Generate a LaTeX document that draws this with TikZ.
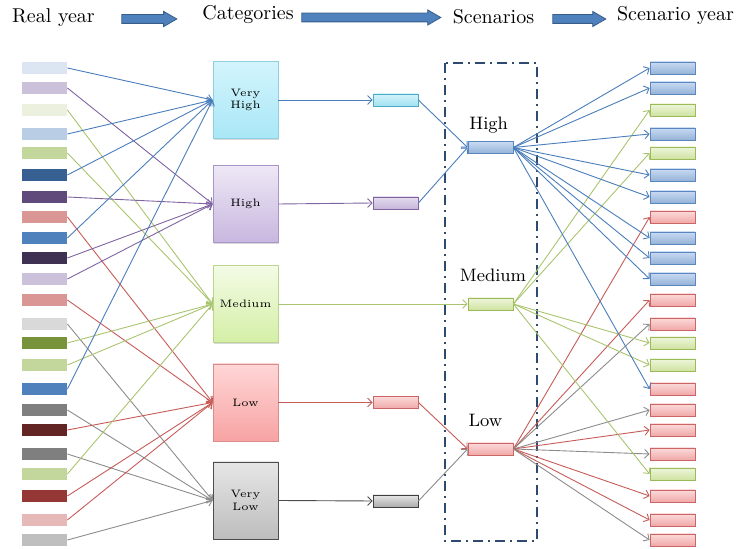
\documentclass[tikz,border=0pt]{standalone}
\usetikzlibrary{arrows.meta,shapes.arrows,shadows}
% office-style palette for the year bars
\definecolor{blueA}{HTML}{DCE6F2}
\definecolor{blueB}{HTML}{B9CDE5}
\definecolor{blueC}{HTML}{4F81BD}
\definecolor{blueD}{HTML}{376092}
\definecolor{purpA}{HTML}{CCC1DA}
\definecolor{purpB}{HTML}{604A7B}
\definecolor{purpC}{HTML}{3F3151}
\definecolor{grnA}{HTML}{EBF1DE}
\definecolor{grnB}{HTML}{C3D69B}
\definecolor{grnC}{HTML}{77933C}
\definecolor{redA}{HTML}{E6B9B8}
\definecolor{redB}{HTML}{D99694}
\definecolor{redC}{HTML}{953735}
\definecolor{redD}{HTML}{632523}
\definecolor{grayA}{HTML}{D9D9D9}
\definecolor{grayB}{HTML}{BFBFBF}
\definecolor{grayC}{HTML}{7F7F7F}
% box shadings: top, bottom, edge
\definecolor{vhT}{HTML}{D3F4FC}\definecolor{vhB}{HTML}{A9E7F7}\definecolor{vhE}{HTML}{8ED0E0}
\definecolor{hiT}{HTML}{EEE8F5}\definecolor{hiB}{HTML}{C8B7DF}\definecolor{hiE}{HTML}{A996C8}
\definecolor{meT}{HTML}{F4FBE6}\definecolor{meB}{HTML}{D4EFA6}\definecolor{meE}{HTML}{BCD58E}
\definecolor{loT}{HTML}{FFD6D6}\definecolor{loB}{HTML}{F7A3A3}\definecolor{loE}{HTML}{D98C8C}
\definecolor{vlT}{HTML}{E6E6E6}\definecolor{vlB}{HTML}{BDBDBD}\definecolor{vlE}{HTML}{4D4D4D}
\definecolor{bbT}{HTML}{C9DAF3}\definecolor{bbB}{HTML}{95B3D7}\definecolor{bbE}{HTML}{5B87C0}
\definecolor{gbT}{HTML}{EEF5DC}\definecolor{gbB}{HTML}{CFE3A0}\definecolor{gbE}{HTML}{9BBB59}
\definecolor{rbT}{HTML}{FBDADA}\definecolor{rbB}{HTML}{F0A8A8}\definecolor{rbE}{HTML}{CC6666}
\definecolor{cbT}{HTML}{D3F3FB}\definecolor{cbB}{HTML}{A2E1F0}\definecolor{cbE}{HTML}{4BACC6}
\definecolor{pbT}{HTML}{E4DCEE}\definecolor{pbB}{HTML}{C6B6DB}\definecolor{pbE}{HTML}{8064A2}
\definecolor{kbT}{HTML}{E6E6E6}\definecolor{kbB}{HTML}{ACACAC}\definecolor{kbE}{HTML}{3F3F3F}
% connector colours, one per category
\definecolor{lnvh}{HTML}{4A7EBB}
\definecolor{lnhi}{HTML}{8064A2}
\definecolor{lnme}{HTML}{A9C46E}
\definecolor{lnlo}{HTML}{C65B58}
\definecolor{lnvl}{HTML}{8C8C8C}
\definecolor{hdedge}{HTML}{385D8A}
\definecolor{frm}{HTML}{2E4A6E}
\tikzset{head/.style={font=\fontsize{10}{12}\selectfont,inner sep=0pt,anchor=base},
hdarrow/.style={single arrow,fill=blueC,draw=hdedge,line width=0.4pt,inner sep=0pt,inner ysep=2pt,single arrow head extend=1.6pt,single arrow tip angle=60},
yearbar/.style={inner sep=0pt,minimum width=22.5pt,minimum height=5.8pt},
shade/.style={top color=#1T,bottom color=#1B,draw=#1E},
catbox/.style={line width=0.4pt,inner sep=0pt,minimum width=32.5pt,minimum height=38.5pt,align=center,font=\fontsize{5.4}{6.3}\selectfont,drop shadow={opacity=0.3,shadow xshift=0.7pt,shadow yshift=-0.7pt}},
bar/.style={line width=0.4pt,inner sep=0pt,minimum width=22.5pt,minimum height=6pt,drop shadow={opacity=0.25,shadow xshift=0.5pt,shadow yshift=-0.5pt}},
bluebar/.style={bar,shade=bb},
greenbar/.style={bar,shade=gb},
redbar/.style={bar,shade=rb},
link/.style={line width=0.45pt,-{Straight Barb[length=2.2pt,width=4.4pt]}},
frame/.style={draw=frm,line width=1.3pt,dash pattern=on 5pt off 2.5pt on 1pt off 2.5pt},
tag/.style={font=\fontsize{9}{11}\selectfont,inner sep=0pt,anchor=base}}
\begin{document}
\begin{tikzpicture}[x=0.5pt,y=-0.5pt]
\useasboundingbox (0,0) rectangle (739,549);
% header row
\node[head] (real) at (53.5,23) {Real year};
\node[head] (cats) at (248,20) {Categories};
\node[head] (scen) at (493.5,24) {Scenarios};
\node[head] (syear) at (675.5,21) {Scenario year};
\node[hdarrow,minimum height=27.5pt] (h1) at (145.5,19) {};
\node[hdarrow,minimum height=69.5pt] (h2) at (367.5,17.5) {};
\node[hdarrow,minimum height=26.5pt] (h3) at (575.5,19) {};
% categories
\node[catbox,shade=vh] (vh) at (245.5,100) {Very\\High};
\node[catbox,shade=hi] (hi) at (245.5,204) {High};
\node[catbox,shade=me] (me) at (245.5,304) {Medium};
\node[catbox,shade=lo] (lo) at (245.5,402.5) {Low};
\node[catbox,shade=vl] (vl) at (245.5,500.5) {Very\\Low};
% one bar per category
\node[bar,shade=cb] (vhs) at (395.5,100) {};
\node[bar,shade=pb] (his) at (395.5,203) {};
\node[redbar] (los) at (395.5,402.5) {};
\node[bar,shade=kb] (vls) at (395.5,501) {};
% scenarios
\draw[frame] (445,63) rectangle (537,541);
\node[bluebar] (shi) at (490.5,147.5) {};
\node[greenbar] (sme) at (490.5,304) {};
\node[redbar] (slo) at (490.5,449) {};
\node[tag] (thi) at (488.7,130) {High};
\node[tag] (tme) at (493,282) {Medium};
\node[tag] (tlo) at (485.5,427) {Low};
\draw[link,draw=lnvh] (vh.east) -- (vhs.west);
\draw[link,draw=lnhi] (hi.east) -- (his.west);
\draw[link,draw=lnme] (me.east) -- (sme.west);
\draw[link,draw=lnlo] (lo.east) -- (los.west);
\draw[link,draw=black!70] (vl.east) -- (vls.west);
\draw[link,draw=lnvh] (vhs.east) -- (shi.west);
\draw[link,draw=lnvh] (his.east) -- (shi.west);
\draw[link,draw=lnlo] (los.east) -- (slo.west);
\draw[link,draw=lnvl] (vls.east) -- (slo.west);
% real years and scenario years
\foreach \yy/\fc/\cat/\scn/\oc/\rb [count=\n] in {68/blueA/vh/shi/lnvh/bluebar,88/purpA/hi/shi/lnvh/bluebar,110/grnA/me/sme/lnme/greenbar,
  134/blueB/vh/shi/lnvh/bluebar,153/grnB/me/sme/lnme/greenbar,175/blueD/vh/shi/lnvh/bluebar,197/purpB/hi/shi/lnvh/bluebar,
  217/redB/lo/slo/lnlo/redbar,238/blueC/vh/shi/lnvh/bluebar,258/purpC/hi/shi/lnvh/bluebar,279/purpA/hi/shi/lnvh/bluebar,
  300/redB/lo/slo/lnlo/redbar,324/grayA/vl/slo/lnvl/redbar,343/grnC/me/sme/lnme/greenbar,365/grnB/me/sme/lnme/greenbar,
  389/blueC/vh/shi/lnvh/redbar,410/grayC/vl/slo/lnvl/redbar,430/redD/lo/slo/lnlo/redbar,454/grayC/vl/slo/lnvl/redbar,
  474/grnB/me/sme/lnme/greenbar,496/redC/lo/slo/lnlo/redbar,520/redA/lo/slo/lnlo/redbar,540/grayB/vl/slo/lnvl/redbar}{
  \node[yearbar,fill=\fc] (ry\n) at (44.5,\yy) {};
  \node[\rb] (sy\n) at (672.5,\yy) {};
  \draw[link,draw=ln\cat] (ry\n.east) -- (\cat.west);
  \draw[link,draw=\oc] (\scn.east) -- (sy\n.west);
}
\end{tikzpicture}
\end{document}
